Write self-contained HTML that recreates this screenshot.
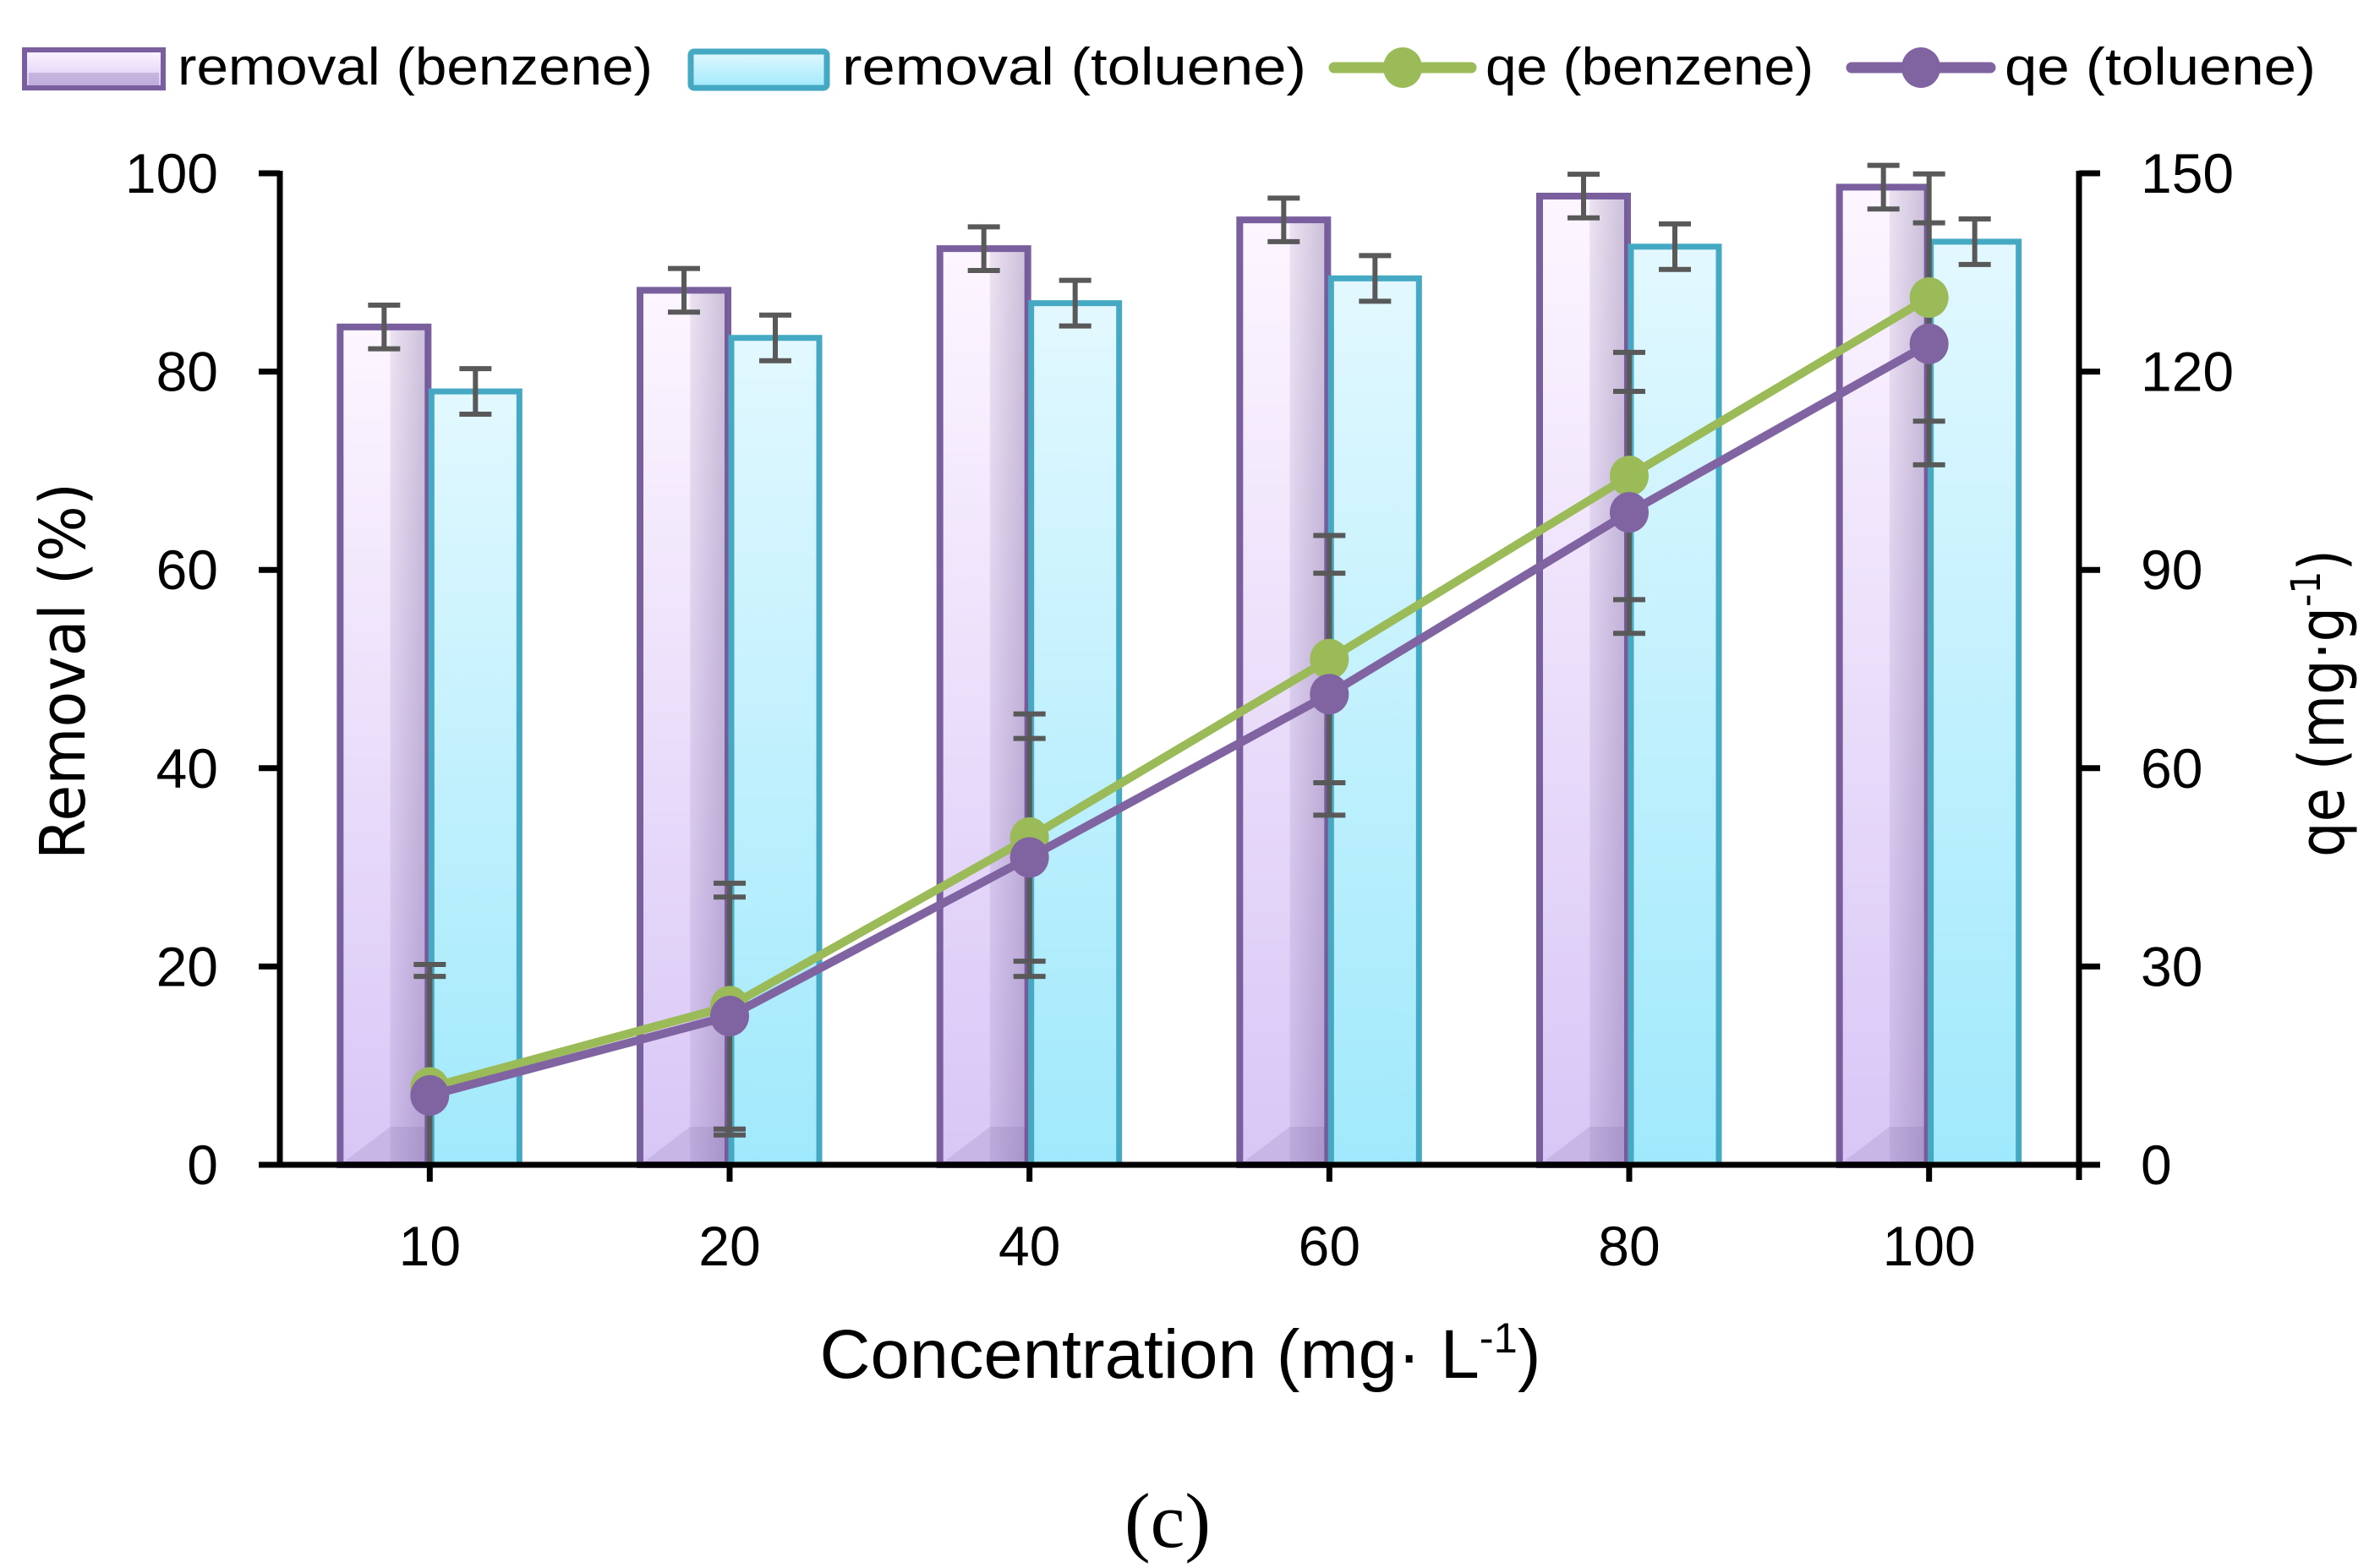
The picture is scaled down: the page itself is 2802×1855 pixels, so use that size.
<!DOCTYPE html>
<html><head><meta charset="utf-8"><style>
html,body{margin:0;padding:0;background:#fff;}
svg{display:block;font-family:"Liberation Sans",sans-serif;}
</style></head><body>
<svg id="chart" width="2802" height="1855" viewBox="0 0 2802 1855" xmlns="http://www.w3.org/2000/svg">
<defs>
<linearGradient id="gB" x1="0" y1="0" x2="0" y2="1"><stop offset="0" stop-color="#fdf6ff"/><stop offset="1" stop-color="#d8c6f6"/></linearGradient>
<linearGradient id="gBr" x1="0" y1="0" x2="1" y2="0"><stop offset="0" stop-color="#6b5490" stop-opacity="0.12"/><stop offset="1" stop-color="#6b5490" stop-opacity="0.35"/></linearGradient>
<linearGradient id="gT" x1="0" y1="0" x2="0" y2="1"><stop offset="0" stop-color="#e2f8fe"/><stop offset="1" stop-color="#a0e9fc"/></linearGradient>
</defs>
<g id="legend">
 <g>
  <rect x="29" y="59" width="164" height="45" fill="url(#gB)" stroke="#7a5f9e" stroke-width="6"/>
  <rect x="34" y="86" width="154" height="16" fill="#6b5490" fill-opacity="0.25"/>
  <text x="210" y="100" font-size="62" textLength="562" lengthAdjust="spacingAndGlyphs">removal (benzene)</text>
 </g>
 <g>
  <rect x="817" y="61" width="161" height="43" rx="4" fill="url(#gT)" stroke="#46a9c4" stroke-width="7"/>
  <text x="996" y="100" font-size="62" textLength="549" lengthAdjust="spacingAndGlyphs">removal (toluene)</text>
 </g>
 <g>
  <line x1="1578" y1="80" x2="1740" y2="80" stroke="#9bbb59" stroke-width="13" stroke-linecap="round"/>
  <ellipse cx="1659" cy="80" rx="23" ry="24" fill="#9bbb59"/>
  <text x="1757" y="100" font-size="62" textLength="388" lengthAdjust="spacingAndGlyphs">qe (benzene)</text>
 </g>
 <g>
  <line x1="2190" y1="80" x2="2354" y2="80" stroke="#8064a2" stroke-width="13" stroke-linecap="round"/>
  <ellipse cx="2272" cy="80" rx="23" ry="24" fill="#8064a2"/>
  <text x="2371" y="100" font-size="62" textLength="368" lengthAdjust="spacingAndGlyphs">qe (toluene)</text>
 </g>
</g>
<g id="bars"></g>
<g id="lines"></g>
<g id="axes"></g>
<text x="1396" y="1630" font-size="82" text-anchor="middle" textLength="853" lengthAdjust="spacingAndGlyphs">Concentration (mg· L<tspan dy="-30" font-size="50">-1</tspan><tspan dy="30">)</tspan></text>
<text transform="translate(100,794) rotate(-90)" font-family="DejaVu Sans, sans-serif" font-size="74" text-anchor="middle" textLength="446" lengthAdjust="spacingAndGlyphs">Removal (%)</text>
<text transform="translate(2772,832) rotate(-90)" font-family="DejaVu Sans, sans-serif" font-size="74" text-anchor="middle" textLength="364" lengthAdjust="spacingAndGlyphs">qe (mg·g<tspan dy="-28" font-size="48">-1</tspan><tspan dy="28">)</tspan></text>
<text x="1381" y="1830" font-family="Liberation Serif, serif" font-size="92" text-anchor="middle">(c)</text>
</svg>
<script>
const categories = ["10","20","40","60","80","100"];
const removalBenzene = [84.5, 88.2, 92.4, 95.3, 97.7, 98.6];
const removalBenzeneErr = [2.2, 2.2, 2.2, 2.2, 2.2, 2.2];
const removalToluene = [78.0, 83.4, 86.9, 89.4, 92.6, 93.1];
const removalTolueneErr = [2.3, 2.3, 2.3, 2.3, 2.3, 2.3];
const qeBenzene = [11.7, 24.0, 49.5, 76.5, 104.2, 131.2];
const qeBenzeneErr = [18.6, 18.6, 18.7, 18.7, 18.7, 18.7];
const qeToluene = [10.5, 22.5, 46.5, 71.2, 98.7, 124.2];
const qeTolueneErr = [18.0, 18.0, 18.0, 18.3, 18.3, 18.3];
const leftTicks = [0, 20, 40, 60, 80, 100];
const rightTicks = [0, 30, 60, 90, 120, 150];

const NS = "http://www.w3.org/2000/svg";
const X0 = 331, X1 = 2459, Y0 = 1378, Y1 = 205;
const bandW = (X1 - X0) / categories.length;
function xCat(i){ return X0 + bandW * (i + 0.5); }
function yL(v){ return Y0 - (v / 100) * (Y0 - Y1); }
function yR(v){ return Y0 - (v / 150) * (Y0 - Y1); }
function mk(tag, attrs, parent){ const e = document.createElementNS(NS, tag); for (const k in attrs) e.setAttribute(k, attrs[k]); parent.appendChild(e); return e; }

const bars = document.getElementById('bars');
const lines = document.getElementById('lines');
const axes = document.getElementById('axes');
const BW = 104;

function errBar(parent, x, yTop, yBot, cap, name, drawTop, drawBot){
  const g = mk('g', {}, parent);
  
  
  mk('line', {x1:x, y1:yTop, x2:x, y2:yBot, stroke:'#595959', 'stroke-width':6}, g);
  if (drawTop !== false) mk('line', {x1:x-cap, y1:yTop, x2:x+cap, y2:yTop, stroke:'#595959', 'stroke-width':6}, g);
  if (drawBot !== false) mk('line', {x1:x-cap, y1:yBot, x2:x+cap, y2:yBot, stroke:'#595959', 'stroke-width':6}, g);
}

categories.forEach((c, i) => {
  const cx = xCat(i);
  const gb = mk('g', {}, bars);
  
  
  const yb = yL(removalBenzene[i]);
  mk('rect', {x:cx-BW-2, y:yb, width:BW, height:Y0-yb, fill:'url(#gB)', stroke:'#7a5f9e', 'stroke-width':8}, gb);
  mk('rect', {x:cx-BW*0.45, y:yb+4, width:BW*0.43, height:Y0-yb-8, fill:'url(#gBr)'}, gb);
  mk('polygon', {points:`${cx-BW+2},${Y0-3} ${cx-BW*0.45},${Y0-45} ${cx-5},${Y0-45} ${cx-5},${Y0-3}`, fill:'#6b5490', 'fill-opacity':0.15}, gb);
  errBar(gb, cx-BW/2-2, yL(removalBenzene[i]+removalBenzeneErr[i]), yL(removalBenzene[i]-removalBenzeneErr[i]), 19, 'error-bar-removal-benzene-' + c);
  const gt = mk('g', {}, bars);
  
  
  const yt = yL(removalToluene[i]);
  mk('rect', {x:cx+2, y:yt, width:BW, height:Y0-yt, fill:'url(#gT)', stroke:'#46a9c4', 'stroke-width':7}, gt);
  errBar(gt, cx+BW/2+2, yL(removalToluene[i]+removalTolueneErr[i]), yL(removalToluene[i]-removalTolueneErr[i]), 19, 'error-bar-removal-toluene-' + c);
});

categories.forEach((c, i) => {
  const cx = xCat(i);
  errBar(lines, cx, yR(qeBenzene[i]+qeBenzeneErr[i]), Math.min(Y0, yR(qeBenzene[i]-qeBenzeneErr[i])), 19, 'error-bar-qe-benzene-' + c, true, qeBenzene[i]-qeBenzeneErr[i] > 0);
  errBar(lines, cx, yR(qeToluene[i]+qeTolueneErr[i]), Math.min(Y0, yR(qeToluene[i]-qeTolueneErr[i])), 19, 'error-bar-qe-toluene-' + c, true, qeToluene[i]-qeTolueneErr[i] > 0);
});

function series(vals, color, name){
  const g = mk('g', {}, lines);
  
  
  const pts = vals.map((v, i) => xCat(i) + ',' + yR(v)).join(' ');
  mk('polyline', {points:pts, fill:'none', stroke:color, 'stroke-width':10, 'stroke-linejoin':'round'}, g);
  vals.forEach((v, i) => {
    const p = mk('ellipse', {cx:xCat(i), cy:yR(v), rx:23, ry:24, fill:color}, g);
    
    
  });
}
series(qeBenzene, '#9bbb59', 'qe-benzene');
series(qeToluene, '#8064a2', 'qe-toluene');

const la = mk('line', {x1:X0, y1:Y1-3, x2:X0, y2:Y0+3, stroke:'#000', 'stroke-width':7}, axes);


const ra = mk('line', {x1:X1, y1:Y1-3, x2:X1, y2:Y0+18, stroke:'#000', 'stroke-width':7}, axes);


const xa = mk('line', {x1:X0-25, y1:Y0, x2:X1+3, y2:Y0, stroke:'#000', 'stroke-width':7}, axes);


leftTicks.forEach(v => {
  const y = yL(v);
  mk('line', {x1:X0-25, y1:y, x2:X0, y2:y, stroke:'#000', 'stroke-width':7}, axes);
  const t = mk('text', {x:258, y:y+23, 'font-size':66, 'text-anchor':'end'}, axes);
  t.textContent = v;
  
  
});
rightTicks.forEach(v => {
  const y = yR(v);
  mk('line', {x1:X1, y1:y, x2:X1+25, y2:y, stroke:'#000', 'stroke-width':7}, axes);
  const t = mk('text', {x:2532, y:y+23, 'font-size':66, 'text-anchor':'start'}, axes);
  t.textContent = v;
  
  
});
categories.forEach((c, i) => {
  const x = xCat(i);
  mk('line', {x1:x, y1:Y0, x2:x, y2:Y0+20, stroke:'#000', 'stroke-width':7}, axes);
  const t = mk('text', {x:x, y:1497, 'font-size':66, 'text-anchor':'middle'}, axes);
  t.textContent = c;
  
  
});
</script>
</body></html>
